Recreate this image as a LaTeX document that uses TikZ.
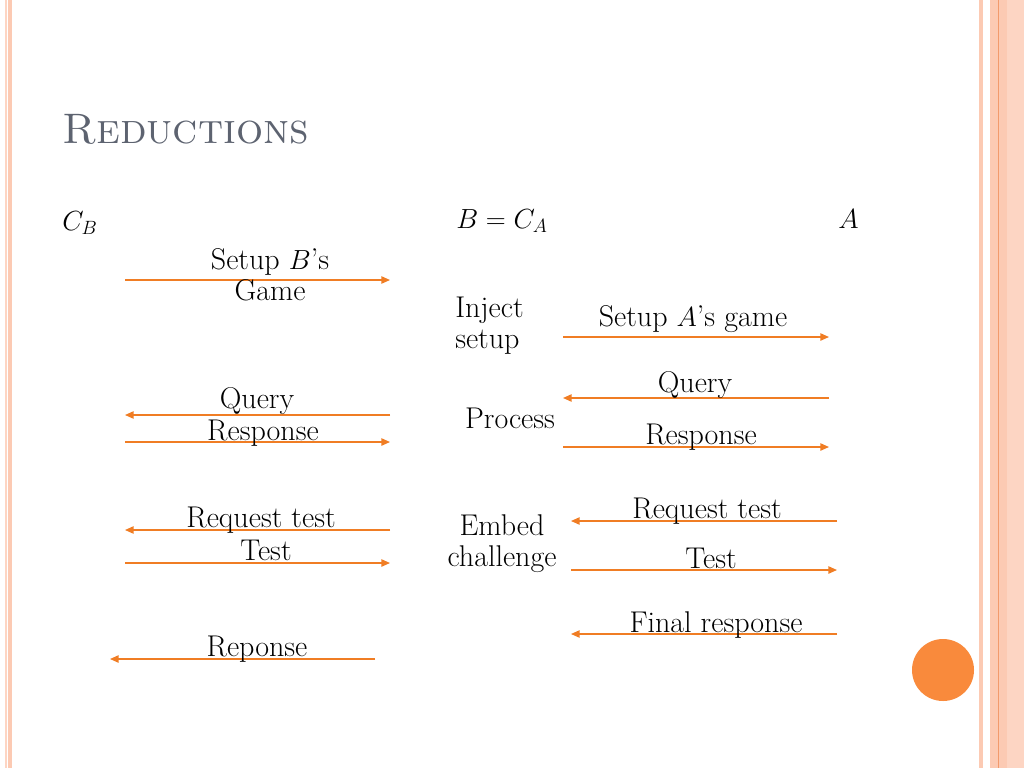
\documentclass[tikz,border=0pt]{standalone}
\usetikzlibrary{arrows.meta}
\definecolor{arrowc}{HTML}{F07D24}
\definecolor{salmon}{HTML}{FCCAB3}
\definecolor{salmonl}{HTML}{FDD5C3}
\definecolor{salmond}{HTML}{F29A6C}
\definecolor{titlec}{HTML}{5D6370}
\definecolor{dotc}{HTML}{F98A3C}
\begin{document}
\begin{tikzpicture}[x=0.75pt,y=-0.75pt,
  msg/.style={draw=arrowc, line width=1.1pt, -{Triangle[length=6.5pt,width=5.5pt]}},
  lbl/.style={font=\fontsize{22.5}{23.25}\selectfont, inner sep=0pt, align=center, anchor=base},
  mlbl/.style={font=\fontsize{22.5}{23.25}\selectfont, inner sep=0pt, align=left, anchor=base west},
  hdr/.style={font=\fontsize{22}{26}\selectfont, inner sep=0pt, anchor=base west},
]
\useasboundingbox (0,0) rectangle (1024,768);
\fill[white] (0,0) rectangle (1024,768);
% borders
\fill[salmonl] (5,0) rectangle (7,768);
\fill[salmon] (8,0) rectangle (12,768);
\fill[salmon] (979,0) rectangle (983,768);
\fill[salmon] (990,0) rectangle (1007,768);
\fill[salmonl] (1007,0) rectangle (1024,768);
\fill[salmond] (997.5,0) rectangle (998.8,768);
\fill[dotc] (943,670) circle (31);

% title
\node[anchor=base west, inner sep=0pt, text=titlec, font=\fontsize{32}{38}\selectfont] (title) at (62,143) {\textsc{Reductions}};

% headers
\node[hdr] (cb) at (62,230) {$C_B$};
\node[hdr] (bca) at (456,228) {$B = C_A$};
\node[hdr] (a) at (838,228) {$A$};

% middle labels (base = last line)
\node[mlbl] (inject) at (455,348) {Inject\\setup};
\node[lbl] (process) at (510,428) {Process};
\node[lbl] (embed) at (502,566) {Embed\\challenge};

% left column coordinates
\coordinate (L1a) at (125,280); \coordinate (L1b) at (390,280);
\coordinate (L2a) at (390,415); \coordinate (L2b) at (125,415);
\coordinate (L3a) at (125,442); \coordinate (L3b) at (390,442);
\coordinate (L4a) at (390,530); \coordinate (L4b) at (125,530);
\coordinate (L5a) at (125,563); \coordinate (L5b) at (390,563);
\coordinate (L6a) at (375,659); \coordinate (L6b) at (110,659);
% right column coordinates
\coordinate (R1a) at (563,337); \coordinate (R1b) at (829,337);
\coordinate (R2a) at (829,398); \coordinate (R2b) at (563,398);
\coordinate (R3a) at (563,447); \coordinate (R3b) at (829,447);
\coordinate (R4a) at (837,521); \coordinate (R4b) at (571,521);
\coordinate (R5a) at (571,570); \coordinate (R5b) at (837,570);
\coordinate (R6a) at (837,634); \coordinate (R6b) at (571,634);

\draw[msg] (L1a) -- (L1b);
\draw[msg] (L2a) -- (L2b);
\draw[msg] (L3a) -- (L3b);
\draw[msg] (L4a) -- (L4b);
\draw[msg] (L5a) -- (L5b);
\draw[msg] (L6a) -- (L6b);
\draw[msg] (R1a) -- (R1b);
\draw[msg] (R2a) -- (R2b);
\draw[msg] (R3a) -- (R3b);
\draw[msg] (R4a) -- (R4b);
\draw[msg] (R5a) -- (R5b);
\draw[msg] (R6a) -- (R6b);

% left labels
\node[lbl] (t1) at (270,300) {Setup $B$'s\\Game};
\node[lbl] (t2) at (257,408) {Query};
\node[lbl] (t3) at (263,440) {Response};
\node[lbl] (t4) at (261,527) {Request test};
\node[lbl] (t5) at (266,560) {Test};
\node[lbl] (t6) at (257,656) {Reponse};
% right labels
\node[lbl] (u1) at (693,326) {Setup $A$'s game};
\node[lbl] (u2) at (695,392) {Query};
\node[lbl] (u3) at (701,444) {Response};
\node[lbl] (u4) at (707,518) {Request test};
\node[lbl] (u5) at (711,568) {Test};
\node[lbl] (u6) at (716,632) {Final response};
\end{tikzpicture}
\end{document}
